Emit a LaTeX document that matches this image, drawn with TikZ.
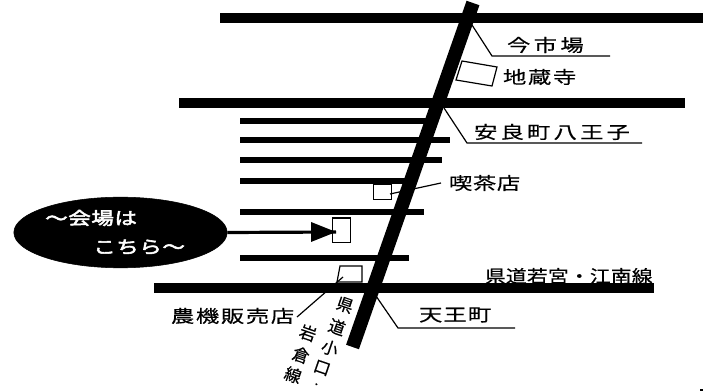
\documentclass[tikz,border=0pt]{standalone}
\usepackage{fontspec}
\usetikzlibrary{shapes.geometric}
\newfontfamily\jpw[FakeStretch=1.35,FakeBold=0.4]{Noto Sans CJK JP}
\newfontfamily\jpk[FakeStretch=1.2,FakeBold=0.4]{Noto Sans CJK JP}
\newfontfamily\jpn[FakeBold=0.4]{Noto Sans CJK JP}
\newfontfamily\jpb[FakeStretch=1.3,FakeBold=3]{Noto Sans CJK JP}
\tikzset{
  road/.style={draw=black,line width=7.6pt},
  lane/.style={draw=black,line width=3.8pt},
  mainroad/.style={draw=black,line width=10.2pt},
  lead/.style={draw=black,line width=0.9pt},
  bld/.style={draw=black,fill=white,line width=0.9pt},
  lbl/.style={anchor=west,inner sep=0pt,outer sep=0pt,font=\fontsize{13pt}{13pt}\selectfont},
  rot/.style={inner sep=0pt,rotate=-19,font=\jpn\fontsize{12.5pt}{12.5pt}\selectfont},
  wht/.style={anchor=west,inner sep=0pt,text=white,font=\jpb\fontsize{13pt}{13pt}\selectfont\addfontfeature{LetterSpace=3}},
}
\begin{document}
\begin{tikzpicture}[x=0.75pt,y=-0.75pt]
\useasboundingbox (0,0) rectangle (703,391);
% anchors of the roads
\coordinate (a1) at (220,18);  \coordinate (a2) at (703,18);
\coordinate (b1) at (179,103); \coordinate (b2) at (685,103);
\coordinate (c1) at (154,288); \coordinate (c2) at (654,288);
\coordinate (m1) at (473,3);   \coordinate (m2) at (352.5,347);
\coordinate (l1a) at (240,121); \coordinate (l1b) at (430,121);
\coordinate (l2a) at (240,140); \coordinate (l2b) at (450,140);
\coordinate (l3a) at (240,160); \coordinate (l3b) at (442,160);
\coordinate (l4a) at (240,181); \coordinate (l4b) at (410,181);
\coordinate (l5a) at (240,212); \coordinate (l5b) at (424,212);
\coordinate (l6a) at (240,258); \coordinate (l6b) at (409,258);
% leader bends
\coordinate (i0) at (472,25);  \coordinate (i1) at (492,56);  \coordinate (i2) at (610,56);
\coordinate (r0) at (444,108); \coordinate (r1) at (467,143); \coordinate (r2) at (642,143);
\coordinate (t0) at (376,296); \coordinate (t1) at (398,328); \coordinate (t2) at (515,328);
\coordinate (k0) at (390,194); \coordinate (k1) at (441,183);
\coordinate (n0) at (343,277); \coordinate (n1) at (297,317);
% streets
\draw[lane] (l1a) -- (l1b);
\draw[lane] (l2a) -- (l2b);
\draw[lane] (l3a) -- (l3b);
\draw[lane] (l4a) -- (l4b);
\draw[lane] (l5a) -- (l5b);
\draw[lane] (l6a) -- (l6b);
% buildings
\draw[bld] (462,61) -- (497,67) -- (492,86) -- (456,80) -- cycle;
\node[bld,minimum width=14pt,minimum height=11.6pt,inner sep=0pt] (cafe) at (382.5,192) {};
\node[bld,minimum width=14pt,minimum height=18.6pt,inner sep=0pt] (venue) at (341.5,230.5) {};
\draw[bld] (340,266) -- (362,266) -- (362,282) -- (337,282) -- cycle;
% leaders
\draw[lead] (k0) -- (k1);
\draw[lead] (n0) -- (n1);
\draw[lead] (i0) -- (i1) -- (i2);
\draw[lead] (r0) -- (r1) -- (r2);
\draw[lead] (t0) -- (t1) -- (t2);
% main roads
\draw[road] (a1) -- (a2);
\draw[road] (b1) -- (b2);
\draw[road] (c1) -- (c2);
\draw[mainroad] (m1) -- (m2);
% callout
\node[draw=black,fill=black,ellipse,minimum width=160pt,minimum height=53pt,inner sep=0pt] (blob) at (120.5,232.5) {};
\coordinate (tip) at (336,232);
\fill (311,222) -- (tip) -- (311,242) -- cycle;
\draw[draw=black,line width=2.4pt] (blob.east) -- (tip);
\node[wht] (w1) at (45,218) {〜会場は};
\node[wht] (w2) at (93,247) {こちら〜};
% labels
\node[lbl] (t_ima) at (507,45) {\jpw\addfontfeature{LetterSpace=19}今市場};
\node[lbl] (t_jiz) at (503,77) {\jpw\addfontfeature{LetterSpace=9}地蔵寺};
\node[lbl] (t_anr) at (474,132) {\jpw\addfontfeature{LetterSpace=18}安良町八王子};
\node[lbl] (t_kis) at (449,183) {\jpw\addfontfeature{LetterSpace=3}喫茶店};
\node[lbl] (t_ken) at (485,276) {\jpk\addfontfeature{LetterSpace=1}県道若宮・江南線};
\node[lbl] (t_ten) at (419,315) {\jpw\addfontfeature{LetterSpace=6}天王町};
\node[lbl] (t_nok) at (171,316) {\jpw\addfontfeature{LetterSpace=9}農機販売店};
% vertical road names
\node[rot] (v1) at (345,305) {県};
\node[rot] (v2) at (337,327) {道};
\node[rot] (v3) at (330,348) {小};
\node[rot] (v4) at (322,368) {口};
\node[rot,font=\jpn\fontsize{7pt}{7pt}\selectfont] (v5) at (316,385.5) {・};
\node[rot] (v6) at (308,333) {岩};
\node[rot] (v7) at (301,355) {倉};
\node[rot] (v8) at (293,375) {線};
\fill (700,389) rectangle (703,391);
\end{tikzpicture}
\end{document}
